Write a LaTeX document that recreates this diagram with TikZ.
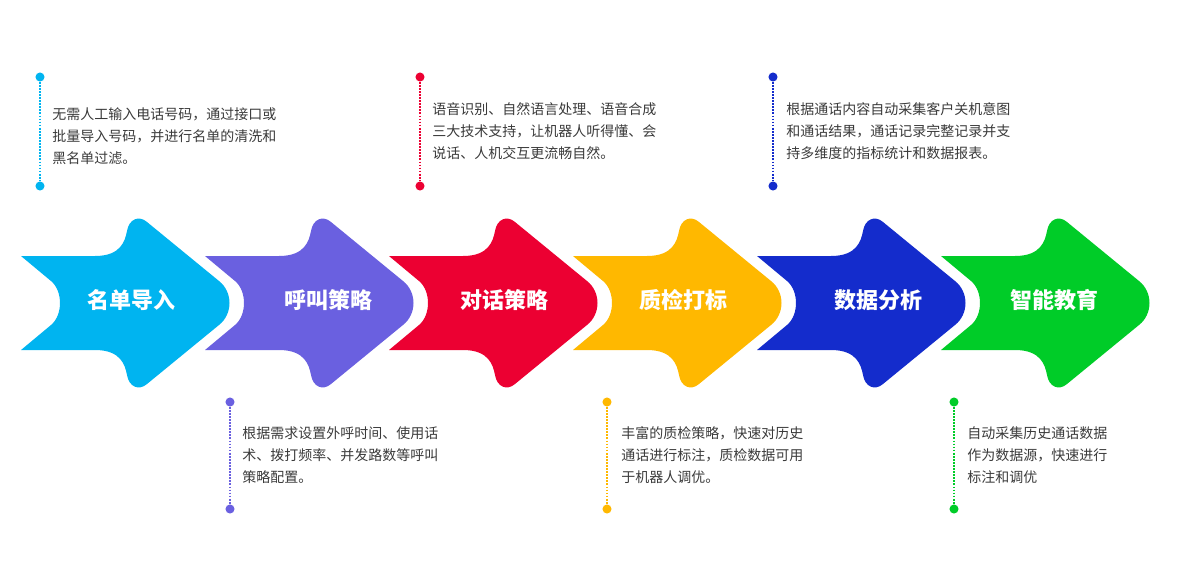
\documentclass[tikz,border=0pt]{standalone}
\usepackage{fontspec}
\setmainfont{Noto Sans CJK SC}
\definecolor{stepcyan}{RGB}{0,180,240}
\definecolor{steppurple}{RGB}{106,96,224}
\definecolor{stepred}{RGB}{236,0,50}
\definecolor{stepamber}{RGB}{255,184,0}
\definecolor{stepblue}{RGB}{20,44,204}
\definecolor{stepgreen}{RGB}{0,204,40}
\definecolor{notegray}{RGB}{58,58,58}
\tikzset{
  chevron/.pic={
    \fill[#1] (0,-47) -- (74,-47) .. controls (100,-47) and (104,-62) .. (106,-72)
      .. controls (108,-84) and (118,-88) .. (126,-81) -- (198,-22)
      .. controls (212,-11) and (212,11) .. (198,22) -- (126,81)
      .. controls (118,88) and (108,84) .. (106,72)
      .. controls (104,62) and (100,47) .. (74,47) -- (0,47) -- (30,22)
      .. controls (42,12) and (42,-12) .. (30,-22) -- cycle;
  },
  steplabel/.style={text=white, font=\fontsize{16.5}{18}\selectfont\bfseries},
  note/.style={text=notegray, font=\fontsize{10.5}{16.5}\selectfont, align=left, anchor=west, inner sep=0pt},
  enddot/.style={circle, fill=#1, inner sep=0pt, minimum size=6.8pt},
  guide/.style={#1, line width=1.8pt, dash pattern=on 1.3pt off 1pt},
}

\begin{document}
\begin{tikzpicture}[x=0.75pt,y=-0.75pt]
    \useasboundingbox (0,0) rectangle (1183,586);
    % arrows
    \pic at (21,303) {chevron=stepcyan};
    \pic at (205,303) {chevron=steppurple};
    \pic at (389,303) {chevron=stepred};
    \pic at (573,303) {chevron=stepamber};
    \pic at (757,303) {chevron=stepblue};
    \pic at (941,303) {chevron=stepgreen};
    % arrow labels
    \node[steplabel] (s1) at (131,300) {名单导入};
    \node[steplabel] (s2) at (328,300) {呼叫策略};
    \node[steplabel] (s3) at (504,300) {对话策略};
    \node[steplabel] (s4) at (683,300) {质检打标};
    \node[steplabel] (s5) at (878,300) {数据分析};
    \node[steplabel] (s6) at (1054,300) {智能教育};
    % upper notes
    \node[enddot=stepcyan] (d1a) at (40,77) {};
    \node[enddot=stepcyan] (d1b) at (40,186) {};
    \draw[guide=stepcyan] (d1a) -- (d1b);
    \node[note] (n1) at (52,136) {无需人工输入电话号码，通过接口或\\批量导入号码，并进行名单的清洗和\\黑名单过滤。};
    \node[enddot=stepred] (d3a) at (420,77) {};
    \node[enddot=stepred] (d3b) at (420,186) {};
    \draw[guide=stepred] (d3a) -- (d3b);
    \node[note] (n3) at (432,131) {语音识别、自然语言处理、语音合成\\三大技术支持，让机器人听得懂、会\\说话、人机交互更流畅自然。};
    \node[enddot=stepblue] (d5a) at (773,77) {};
    \node[enddot=stepblue] (d5b) at (773,186) {};
    \draw[guide=stepblue] (d5a) -- (d5b);
    \node[note] (n5) at (786,131) {根据通话内容自动采集客户关机意图\\和通话结果，通话记录完整记录并支\\持多维度的指标统计和数据报表。};
    % lower notes
    \node[enddot=steppurple] (d2a) at (230,402) {};
    \node[enddot=steppurple] (d2b) at (230,509) {};
    \draw[guide=steppurple] (d2a) -- (d2b);
    \node[note] (n2) at (242,455) {根据需求设置外呼时间、使用话\\术、拨打频率、并发路数等呼叫\\策略配置。};
    \node[enddot=stepamber] (d4a) at (607,402) {};
    \node[enddot=stepamber] (d4b) at (607,509) {};
    \draw[guide=stepamber] (d4a) -- (d4b);
    \node[note] (n4) at (621,455) {丰富的质检策略，快速对历史\\通话进行标注，质检数据可用\\于机器人调优。};
    \node[enddot=stepgreen] (d6a) at (954,402) {};
    \node[enddot=stepgreen] (d6b) at (954,509) {};
    \draw[guide=stepgreen] (d6a) -- (d6b);
    \node[note] (n6) at (967,455) {自动采集历史通话数据\\作为数据源，快速进行\\标注和调优};
\end{tikzpicture}
\end{document}
